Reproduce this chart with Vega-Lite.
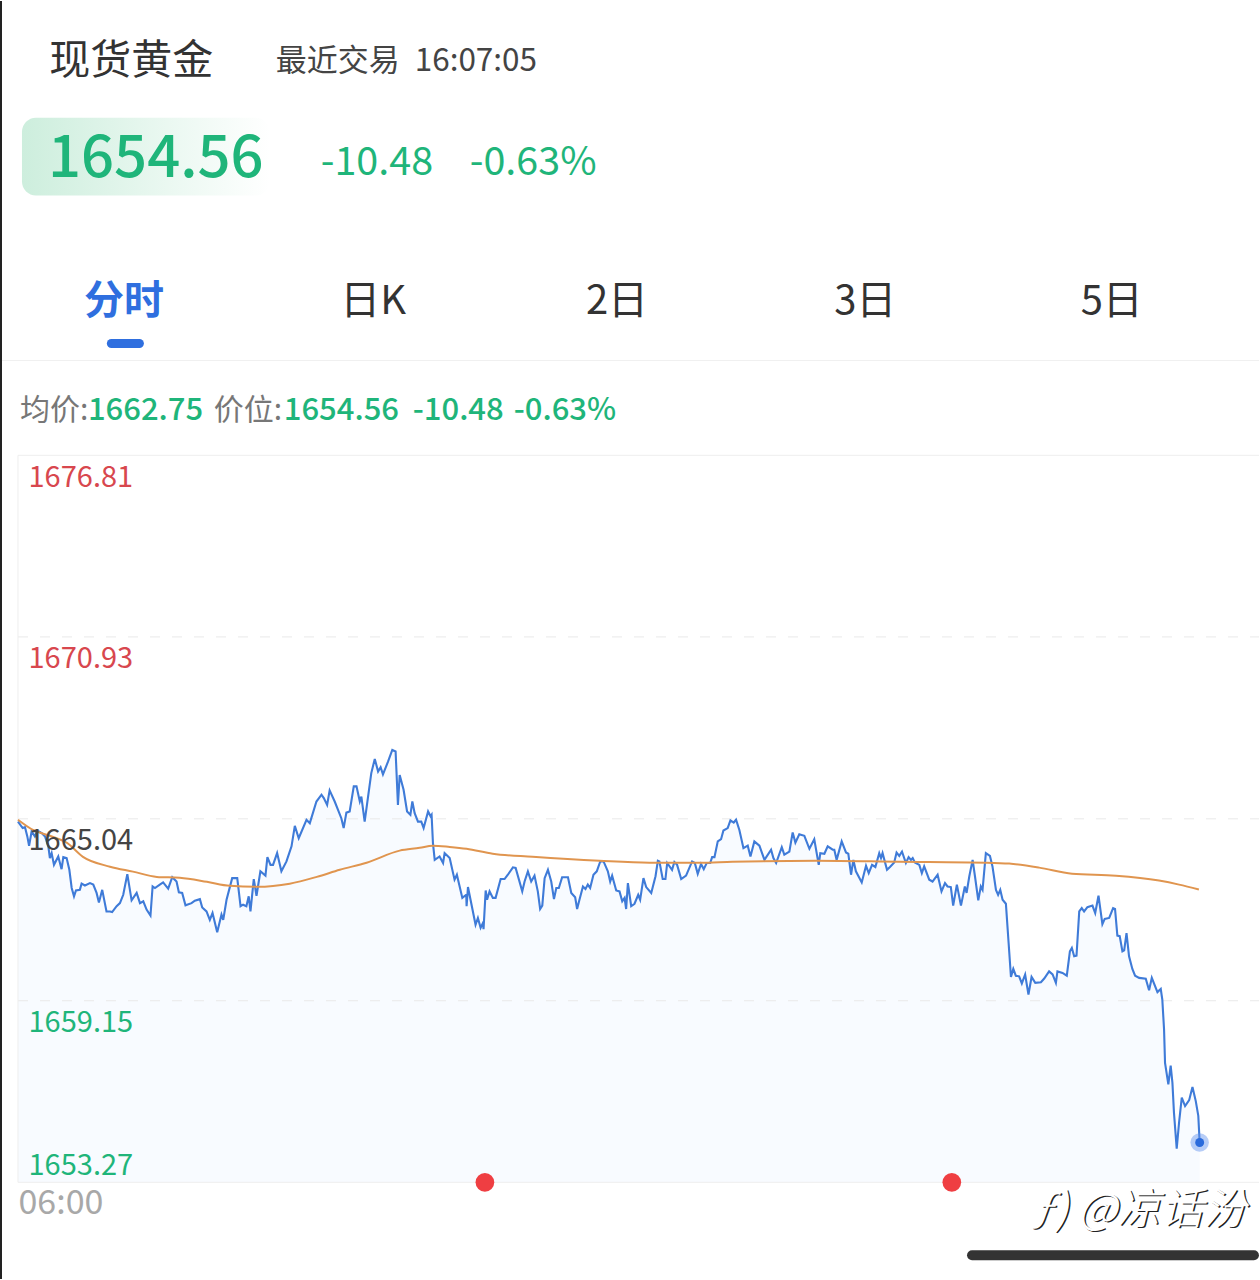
{"$schema":"https://vega.github.io/schema/vega-lite/v6.json","width":1260,"height":1280,"autosize":{"type":"fit","contains":"padding"},"padding":0,"background":"white","config":{"view":{"stroke":null},"font":"Noto Sans CJK SC"},
"datasets":{
"levels":[{"price":1670.93},{"price":1665.04},{"price":1659.15}],
"edges":[{"price":1676.81},{"price":1653.27}],
"signals":[{"minute":240,"price":1653.27},{"minute":480,"price":1653.27}],
"last":[{"minute":607.4,"price":1654.56}],
"one":[{"note":"label"}],
"price":[{"minute":0,"price":1664.95},{"minute":2.4,"price":1664.74},{"minute":3.6,"price":1664.77},{"minute":4.8,"price":1664.47},{"minute":5.7,"price":1664.17},{"minute":7,"price":1664.63},{"minute":8.7,"price":1664.47},{"minute":9.9,"price":1664.66},{"minute":12.2,"price":1664.58},{"minute":13.9,"price":1664.47},{"minute":15.6,"price":1664.15},{"minute":16.4,"price":1663.77},{"minute":17.3,"price":1663.93},{"minute":18.5,"price":1663.55},{"minute":20.7,"price":1663.82},{"minute":22.4,"price":1663.41},{"minute":23.3,"price":1663.8},{"minute":25,"price":1663.77},{"minute":26.4,"price":1663.39},{"minute":27.6,"price":1662.8},{"minute":28.8,"price":1662.53},{"minute":29.8,"price":1662.72},{"minute":31.8,"price":1662.74},{"minute":32.7,"price":1662.94},{"minute":34.4,"price":1662.88},{"minute":37,"price":1662.96},{"minute":38.7,"price":1662.91},{"minute":40.4,"price":1662.64},{"minute":41.6,"price":1662.33},{"minute":43.3,"price":1662.74},{"minute":45.5,"price":1662.04},{"minute":47.3,"price":1662.04},{"minute":48.4,"price":1662.02},{"minute":50.7,"price":1662.21},{"minute":52.4,"price":1662.31},{"minute":54.1,"price":1662.58},{"minute":56.2,"price":1663.25},{"minute":58.4,"price":1662.4},{"minute":61,"price":1662.64},{"minute":62.7,"price":1662.31},{"minute":64.4,"price":1662.37},{"minute":66.1,"price":1662.1},{"minute":68.1,"price":1661.91},{"minute":69.2,"price":1662.85},{"minute":70.4,"price":1662.8},{"minute":72.9,"price":1662.91},{"minute":74.6,"price":1662.98},{"minute":77.2,"price":1662.78},{"minute":79.3,"price":1663.15},{"minute":81.5,"price":1663.01},{"minute":82.7,"price":1662.66},{"minute":84.4,"price":1662.64},{"minute":86.1,"price":1662.24},{"minute":89.2,"price":1662.31},{"minute":90.9,"price":1662.39},{"minute":93.5,"price":1662.44},{"minute":94.7,"price":1662.17},{"minute":96.9,"price":1662.04},{"minute":98.6,"price":1661.77},{"minute":100,"price":1661.99},{"minute":102.4,"price":1661.37},{"minute":104.6,"price":1661.94},{"minute":105.5,"price":1661.77},{"minute":107.2,"price":1662.42},{"minute":110.1,"price":1663.12},{"minute":112.7,"price":1663.12},{"minute":114.4,"price":1662.21},{"minute":115.7,"price":1662.26},{"minute":117.4,"price":1662.21},{"minute":118.6,"price":1662.53},{"minute":119.5,"price":1662.04},{"minute":121.2,"price":1663.09},{"minute":122.6,"price":1662.55},{"minute":124.6,"price":1663.34},{"minute":127.2,"price":1663.2},{"minute":128.2,"price":1663.8},{"minute":129.8,"price":1663.55},{"minute":131.1,"price":1663.55},{"minute":133.2,"price":1663.93},{"minute":135.4,"price":1663.34},{"minute":138,"price":1663.66},{"minute":140.6,"price":1664.15},{"minute":142.3,"price":1664.81},{"minute":144.3,"price":1664.41},{"minute":148.3,"price":1665.01},{"minute":150,"price":1664.9},{"minute":153.4,"price":1665.6},{"minute":156,"price":1665.82},{"minute":157.2,"price":1665.71},{"minute":158.9,"price":1665.49},{"minute":160.2,"price":1665.96},{"minute":162.8,"price":1665.6},{"minute":166.2,"price":1665.06},{"minute":167.4,"price":1664.74},{"minute":168.8,"price":1665.24},{"minute":170.5,"price":1665.28},{"minute":172.6,"price":1666.09},{"minute":174,"price":1666.09},{"minute":175.7,"price":1665.6},{"minute":176.5,"price":1665.76},{"minute":178.2,"price":1664.95},{"minute":179.6,"price":1665.6},{"minute":181.6,"price":1666.52},{"minute":183.4,"price":1666.98},{"minute":185.1,"price":1666.57},{"minute":186.4,"price":1666.71},{"minute":187.6,"price":1666.48},{"minute":190.2,"price":1666.89},{"minute":192.4,"price":1667.27},{"minute":194.1,"price":1667.22},{"minute":195.3,"price":1665.49},{"minute":196.2,"price":1666.46},{"minute":198.2,"price":1665.98},{"minute":200,"price":1665.28},{"minute":201.7,"price":1665.17},{"minute":202.7,"price":1665.6},{"minute":203.9,"price":1665.22},{"minute":205.6,"price":1664.95},{"minute":207.3,"price":1664.95},{"minute":208.5,"price":1664.74},{"minute":210.8,"price":1665.28},{"minute":212.1,"price":1665.12},{"minute":212.6,"price":1665.17},{"minute":213.3,"price":1664.25},{"minute":214.2,"price":1663.71},{"minute":216.7,"price":1663.82},{"minute":218.5,"price":1663.61},{"minute":219.3,"price":1663.93},{"minute":221.9,"price":1663.77},{"minute":224.4,"price":1663.07},{"minute":225.6,"price":1663.23},{"minute":228.4,"price":1662.48},{"minute":230.4,"price":1662.58},{"minute":230.6,"price":1662.21},{"minute":231.3,"price":1662.83},{"minute":235.2,"price":1661.61},{"minute":236.4,"price":1661.83},{"minute":237.8,"price":1661.51},{"minute":239,"price":1661.67},{"minute":239.3,"price":1661.47},{"minute":240.4,"price":1662.72},{"minute":241.1,"price":1662.42},{"minute":242.4,"price":1662.69},{"minute":244.1,"price":1662.48},{"minute":245.5,"price":1662.48},{"minute":248.1,"price":1663.09},{"minute":250.1,"price":1663.09},{"minute":251.8,"price":1663.23},{"minute":254.4,"price":1663.47},{"minute":255.8,"price":1663.45},{"minute":259.2,"price":1662.69},{"minute":260.4,"price":1663.01},{"minute":262.1,"price":1663.34},{"minute":263.8,"price":1663.01},{"minute":265.5,"price":1663.2},{"minute":267.2,"price":1662.69},{"minute":268.4,"price":1662.12},{"minute":269.5,"price":1662.23},{"minute":270.7,"price":1663.12},{"minute":272.4,"price":1663.39},{"minute":274.1,"price":1663.01},{"minute":275.5,"price":1662.44},{"minute":276.7,"price":1662.8},{"minute":278,"price":1662.8},{"minute":279.7,"price":1663.15},{"minute":282.7,"price":1663.15},{"minute":284.4,"price":1662.64},{"minute":286.4,"price":1662.5},{"minute":287.4,"price":1662.12},{"minute":288.6,"price":1662.42},{"minute":290.4,"price":1662.85},{"minute":291.7,"price":1662.77},{"minute":292.9,"price":1662.91},{"minute":294.1,"price":1662.8},{"minute":295.8,"price":1663.23},{"minute":297.5,"price":1663.34},{"minute":299.3,"price":1663.66},{"minute":301,"price":1663.66},{"minute":303.2,"price":1663.34},{"minute":304.4,"price":1663.01},{"minute":305.4,"price":1663.2},{"minute":307.5,"price":1662.72},{"minute":309.2,"price":1662.69},{"minute":310.6,"price":1662.37},{"minute":311.8,"price":1662.48},{"minute":312.6,"price":1662.12},{"minute":313.5,"price":1662.96},{"minute":315.2,"price":1662.21},{"minute":316.9,"price":1662.29},{"minute":318.8,"price":1662.58},{"minute":319.8,"price":1662.42},{"minute":321.5,"price":1663.12},{"minute":322.9,"price":1662.83},{"minute":325.5,"price":1662.64},{"minute":327.7,"price":1663.18},{"minute":328.9,"price":1663.68},{"minute":329.7,"price":1663.66},{"minute":331.4,"price":1663.09},{"minute":332.8,"price":1663.09},{"minute":333.7,"price":1663.61},{"minute":336.2,"price":1663.39},{"minute":337.4,"price":1663.64},{"minute":338.8,"price":1663.55},{"minute":340.9,"price":1663.09},{"minute":343.4,"price":1663.2},{"minute":346.5,"price":1663.66},{"minute":347.9,"price":1663.61},{"minute":349.4,"price":1663.26},{"minute":351.1,"price":1663.58},{"minute":352.5,"price":1663.41},{"minute":354,"price":1663.61},{"minute":355.8,"price":1663.61},{"minute":356.8,"price":1663.8},{"minute":358,"price":1663.8},{"minute":359.7,"price":1664.31},{"minute":361.4,"price":1664.38},{"minute":362.6,"price":1664.66},{"minute":364.8,"price":1664.74},{"minute":366.2,"price":1664.99},{"minute":367.9,"price":1664.92},{"minute":369.1,"price":1665.01},{"minute":370.8,"price":1664.68},{"minute":372.9,"price":1664.09},{"minute":375.1,"price":1664.17},{"minute":376.5,"price":1663.82},{"minute":378.5,"price":1664.31},{"minute":381.1,"price":1664.17},{"minute":383.7,"price":1663.71},{"minute":387.1,"price":1664.04},{"minute":388.3,"price":1663.77},{"minute":389.7,"price":1663.61},{"minute":392.6,"price":1664.12},{"minute":393.9,"price":1663.88},{"minute":396.5,"price":1663.98},{"minute":398.2,"price":1664.6},{"minute":399.6,"price":1664.27},{"minute":401.6,"price":1664.54},{"minute":404.2,"price":1664.49},{"minute":406.8,"price":1664.07},{"minute":409.3,"price":1664.38},{"minute":411.6,"price":1663.55},{"minute":412.4,"price":1663.93},{"minute":414.5,"price":1663.91},{"minute":416.2,"price":1664.15},{"minute":418.8,"price":1664.04},{"minute":419.6,"price":1664.04},{"minute":420.8,"price":1663.71},{"minute":423.4,"price":1664.31},{"minute":425.6,"price":1663.95},{"minute":426.8,"price":1663.91},{"minute":428.2,"price":1663.23},{"minute":429.4,"price":1663.71},{"minute":430.7,"price":1663.34},{"minute":433.7,"price":1662.98},{"minute":435.9,"price":1663.52},{"minute":437.3,"price":1663.28},{"minute":439,"price":1663.55},{"minute":440.7,"price":1663.48},{"minute":442.7,"price":1663.93},{"minute":443.6,"price":1663.77},{"minute":444.4,"price":1663.93},{"minute":446.7,"price":1663.39},{"minute":448.2,"price":1663.48},{"minute":450.4,"price":1663.63},{"minute":451.6,"price":1663.95},{"minute":453,"price":1663.84},{"minute":454.4,"price":1663.98},{"minute":456.4,"price":1663.61},{"minute":457.8,"price":1663.8},{"minute":459,"price":1663.71},{"minute":459.9,"price":1663.77},{"minute":461,"price":1663.63},{"minute":463.3,"price":1663.55},{"minute":464.6,"price":1663.28},{"minute":465.8,"price":1663.5},{"minute":468.4,"price":1663.07},{"minute":470.1,"price":1663.01},{"minute":472.7,"price":1663.23},{"minute":474.7,"price":1662.69},{"minute":476.5,"price":1662.96},{"minute":477.8,"price":1662.85},{"minute":479.5,"price":1662.83},{"minute":480.7,"price":1662.23},{"minute":482.6,"price":1662.91},{"minute":484.7,"price":1662.23},{"minute":486.7,"price":1662.85},{"minute":487.6,"price":1662.64},{"minute":489,"price":1663.18},{"minute":490.7,"price":1663.71},{"minute":491.9,"price":1663.18},{"minute":493.6,"price":1662.4},{"minute":494.9,"price":1662.85},{"minute":495.8,"price":1662.74},{"minute":497.5,"price":1663.93},{"minute":499.6,"price":1663.84},{"minute":500.9,"price":1663.5},{"minute":502.7,"price":1662.74},{"minute":503.8,"price":1662.58},{"minute":504.9,"price":1662.74},{"minute":506.1,"price":1662.42},{"minute":507.8,"price":1662.29},{"minute":509.2,"price":1661.02},{"minute":510.4,"price":1659.92},{"minute":511.6,"price":1660.18},{"minute":512.9,"price":1659.96},{"minute":514.6,"price":1659.94},{"minute":516,"price":1659.71},{"minute":517.7,"price":1660},{"minute":519.4,"price":1659.35},{"minute":521,"price":1659.92},{"minute":522.9,"price":1659.73},{"minute":525.8,"price":1659.75},{"minute":527.5,"price":1659.87},{"minute":530,"price":1660.1},{"minute":531.8,"price":1660},{"minute":533.5,"price":1659.73},{"minute":534.3,"price":1660.1},{"minute":536.9,"price":1660.05},{"minute":539.1,"price":1659.96},{"minute":540.7,"price":1660.75},{"minute":541.7,"price":1660.86},{"minute":542.9,"price":1660.59},{"minute":544.1,"price":1660.61},{"minute":545.5,"price":1662.04},{"minute":546.8,"price":1662.15},{"minute":548,"price":1662.04},{"minute":549.7,"price":1662.18},{"minute":552.3,"price":1662.23},{"minute":553.7,"price":1661.99},{"minute":555.4,"price":1662.55},{"minute":557.4,"price":1661.63},{"minute":558.6,"price":1661.8},{"minute":560.9,"price":1661.83},{"minute":562.9,"price":1662.15},{"minute":563.9,"price":1662.12},{"minute":565.1,"price":1661.26},{"minute":566.3,"price":1661.24},{"minute":567.7,"price":1660.75},{"minute":568.6,"price":1660.78},{"minute":569.8,"price":1661.34},{"minute":571.1,"price":1660.59},{"minute":572.8,"price":1660.18},{"minute":574.2,"price":1659.96},{"minute":576.3,"price":1659.89},{"minute":579.7,"price":1659.86},{"minute":581.4,"price":1659.49},{"minute":582.8,"price":1659.89},{"minute":585.7,"price":1659.43},{"minute":587.4,"price":1659.53},{"minute":588.2,"price":1659.19},{"minute":589.1,"price":1658.22},{"minute":589.6,"price":1657.14},{"minute":591.3,"price":1656.44},{"minute":592.5,"price":1657.05},{"minute":593.4,"price":1656.49},{"minute":594.2,"price":1655.52},{"minute":595.6,"price":1654.36},{"minute":596.8,"price":1655.2},{"minute":598.2,"price":1656.01},{"minute":599.9,"price":1655.74},{"minute":602,"price":1655.93},{"minute":603.7,"price":1656.36},{"minute":605.4,"price":1655.9},{"minute":606.7,"price":1655.42},{"minute":607.4,"price":1654.56}],
"avg":[{"minute":0,"price":1665.01},{"minute":7.7,"price":1664.68},{"minute":16.4,"price":1664.49},{"minute":25.2,"price":1664.26},{"minute":33.4,"price":1663.81},{"minute":47.3,"price":1663.49},{"minute":59.1,"price":1663.33},{"minute":71.4,"price":1663.16},{"minute":83.2,"price":1663.13},{"minute":97.1,"price":1663},{"minute":108.9,"price":1662.87},{"minute":122.8,"price":1662.84},{"minute":139.7,"price":1662.94},{"minute":153.6,"price":1663.16},{"minute":165.4,"price":1663.39},{"minute":179.2,"price":1663.62},{"minute":196.2,"price":1664.01},{"minute":206.5,"price":1664.1},{"minute":213.1,"price":1664.17},{"minute":221.9,"price":1664.13},{"minute":230.6,"price":1664.07},{"minute":244,"price":1663.91},{"minute":264.5,"price":1663.81},{"minute":298.9,"price":1663.68},{"minute":324.6,"price":1663.62},{"minute":350.3,"price":1663.62},{"minute":367.2,"price":1663.65},{"minute":410.4,"price":1663.68},{"minute":453,"price":1663.65},{"minute":497.7,"price":1663.62},{"minute":509.5,"price":1663.59},{"minute":524.9,"price":1663.46},{"minute":541.8,"price":1663.26},{"minute":564.4,"price":1663.2},{"minute":586.5,"price":1663.04},{"minute":596.8,"price":1662.91},{"minute":607,"price":1662.75}]
},
"layer":[
{"data":{"name":"price"},"mark":{"type":"area","color":"#f8fbff","interpolate":"linear"},"encoding":{
"x":{"field":"minute","type":"quantitative","scale":{"domain":[-9.245,637.9],"nice":false,"zero":false},"axis":{"title":null,"zindex":1,"values":[0],"labelExpr":"'06:00'","orient":"bottom","offset":-97,"domain":false,"ticks":false,"grid":false,"labelAlign":"left","labelFontSize":34,"labelColor":"#a8a8a8","labelPadding":4,"labelFlush":false,"labelFont":"Noto Sans CJK SC"}},
"y":{"field":"price","type":"quantitative","scale":{"domain":[1650.14,1691.52],"nice":false,"zero":false},"axis":{"title":null,"zindex":1,"values":[1676.81,1670.93,1665.04,1659.15,1653.27],"format":".2f","domain":false,"ticks":false,"grid":false,"labelAlign":"left","labelPadding":-28,"labelFontSize":29,"labelFont":"Noto Sans CJK SC","labelBaseline":"middle","labelFlush":false,"labelOverlap":false,"labelOffset":{"expr":"datum.value<1654?-17:22"},"labelColor":{"expr":"datum.value>1666?'#d8474e':datum.value>1664?'#444444':'#1fb57a'"}}},
"y2":{"datum":1653.27}}},
{"data":{"name":"levels"},"mark":{"type":"rule","color":"#e9e9e9","strokeWidth":1,"strokeDash":[10,12]},"encoding":{"y":{"field":"price","type":"quantitative"},"x":{"datum":0,"type":"quantitative"},"x2":{"datum":637.9}}},
{"data":{"name":"edges"},"mark":{"type":"rule","color":"#eeeeee","strokeWidth":1},"encoding":{"y":{"field":"price","type":"quantitative"},"x":{"datum":0,"type":"quantitative"},"x2":{"datum":637.9}}},
{"data":{"name":"one"},"mark":{"type":"rule","color":"#eeeeee","strokeWidth":1},"encoding":{"x":{"datum":0,"type":"quantitative"},"y":{"datum":1676.81,"type":"quantitative"},"y2":{"datum":1653.27}}},
{"data":{"name":"one"},"mark":{"type":"rule","color":"#222222","strokeWidth":2},"encoding":{"x":{"datum":-8.73,"type":"quantitative"},"y":{"datum":1691.52,"type":"quantitative"},"y2":{"datum":1650.14}}},
{"data":{"name":"one"},"mark":{"type":"rule","color":"#f0f0f0","strokeWidth":1},"encoding":{"x":{"datum":-8.2,"type":"quantitative"},"x2":{"datum":637.9},"y":{"datum":1679.88,"type":"quantitative"}}},
{"data":{"name":"price"},"mark":{"type":"line","color":"#3f7bd8","strokeWidth":2.1,"interpolate":"linear"},"encoding":{"x":{"field":"minute","type":"quantitative"},"y":{"field":"price","type":"quantitative"}}},
{"data":{"name":"avg"},"mark":{"type":"line","color":"#e0954f","strokeWidth":2,"interpolate":"monotone"},"encoding":{"x":{"field":"minute","type":"quantitative"},"y":{"field":"price","type":"quantitative"}}},
{"data":{"name":"signals"},"mark":{"type":"point","filled":true,"color":"#ef3e42","opacity":1,"size":350},"encoding":{"x":{"field":"minute","type":"quantitative"},"y":{"field":"price","type":"quantitative"}}},
{"data":{"name":"last"},"mark":{"type":"point","filled":true,"color":"#5f90ee","opacity":0.45,"size":340},"encoding":{"x":{"field":"minute","type":"quantitative"},"y":{"field":"price","type":"quantitative"}}},
{"data":{"name":"last"},"mark":{"type":"point","filled":true,"color":"#2a6bdc","opacity":1,"size":80},"encoding":{"x":{"field":"minute","type":"quantitative"},"y":{"field":"price","type":"quantitative"}}},
{"data":{"name":"one"},"mark":{"type":"rect","cornerRadius":14,"fill":{"x1":0,"y1":0,"x2":1,"y2":0,"gradient":"linear","stops":[{"offset":0,"color":"#cdeedd"},{"offset":1,"color":"#ffffff"}]}},"encoding":{"x":{"datum":2.05,"type":"quantitative"},"x2":{"datum":129.4},"y":{"datum":1687.74,"type":"quantitative"},"y2":{"datum":1685.22}}},
{"data":{"name":"one"},"mark":{"type":"rule","color":"#2f6fdf","strokeWidth":9,"strokeCap":"round"},"encoding":{"x":{"datum":48,"type":"quantitative"},"x2":{"datum":62.4},"y":{"datum":1680.43,"type":"quantitative"}}},
{"data":{"name":"one"},"mark":{"type":"rule","color":"#333333","strokeWidth":10,"strokeCap":"round"},"encoding":{"x":{"datum":490.4,"type":"quantitative"},"x2":{"datum":635.3},"y":{"datum":1650.91,"type":"quantitative"}}},
{"data":{"name":"one"},"mark":{"type":"text","align":"left","baseline":"middle","fontSize":41,"color":"#333333"},"encoding":{"text":{"value":"现货黄金"},"x":{"datum":16.1,"type":"quantitative"},"y":{"datum":1689.55,"type":"quantitative"}}},
{"data":{"name":"one"},"mark":{"type":"text","align":"left","baseline":"middle","fontSize":31,"color":"#444444"},"encoding":{"text":{"value":"最近交易"},"x":{"datum":132.5,"type":"quantitative"},"y":{"datum":1689.55,"type":"quantitative"}}},
{"data":{"name":"one"},"mark":{"type":"text","align":"left","baseline":"middle","fontSize":31.5,"color":"#444444"},"encoding":{"text":{"value":"16:07:05"},"x":{"datum":203.9,"type":"quantitative"},"y":{"datum":1689.55,"type":"quantitative"}}},
{"data":{"name":"one"},"mark":{"type":"text","align":"left","baseline":"middle","fontSize":58,"fontWeight":500,"color":"#1fb57a"},"encoding":{"text":{"value":"1654.56"},"x":{"datum":15.4,"type":"quantitative"},"y":{"datum":1686.38,"type":"quantitative"}}},
{"data":{"name":"one"},"mark":{"type":"text","align":"left","baseline":"middle","fontSize":39.5,"color":"#1fb57a"},"encoding":{"text":{"value":"-10.48"},"x":{"datum":155.6,"type":"quantitative"},"y":{"datum":1686.29,"type":"quantitative"}}},
{"data":{"name":"one"},"mark":{"type":"text","align":"left","baseline":"middle","fontSize":39.5,"color":"#1fb57a"},"encoding":{"text":{"value":"-0.63%"},"x":{"datum":232.2,"type":"quantitative"},"y":{"datum":1686.29,"type":"quantitative"}}},
{"data":{"name":"one"},"mark":{"type":"text","align":"center","baseline":"middle","fontSize":40,"fontWeight":700,"color":"#2f6fdf"},"encoding":{"text":{"value":"分时"},"x":{"datum":54.44,"type":"quantitative"},"y":{"datum":1681.79,"type":"quantitative"}}},
{"data":{"name":"one"},"mark":{"type":"text","align":"center","baseline":"middle","fontSize":40,"color":"#333333"},"encoding":{"text":{"value":"日K"},"x":{"datum":182.6,"type":"quantitative"},"y":{"datum":1681.79,"type":"quantitative"}}},
{"data":{"name":"one"},"mark":{"type":"text","align":"center","baseline":"middle","fontSize":40,"color":"#333333"},"encoding":{"text":{"value":"2日"},"x":{"datum":307.9,"type":"quantitative"},"y":{"datum":1681.79,"type":"quantitative"}}},
{"data":{"name":"one"},"mark":{"type":"text","align":"center","baseline":"middle","fontSize":40,"color":"#333333"},"encoding":{"text":{"value":"3日"},"x":{"datum":435.5,"type":"quantitative"},"y":{"datum":1681.79,"type":"quantitative"}}},
{"data":{"name":"one"},"mark":{"type":"text","align":"center","baseline":"middle","fontSize":40,"color":"#333333"},"encoding":{"text":{"value":"5日"},"x":{"datum":562.2,"type":"quantitative"},"y":{"datum":1681.79,"type":"quantitative"}}},
{"data":{"name":"one"},"mark":{"type":"text","align":"left","baseline":"middle","fontSize":30,"color":"#777777"},"encoding":{"text":{"value":"均价:"},"x":{"datum":1.03,"type":"quantitative"},"y":{"datum":1678.24,"type":"quantitative"}}},
{"data":{"name":"one"},"mark":{"type":"text","align":"left","baseline":"middle","fontSize":31,"fontWeight":500,"color":"#1fb57a"},"encoding":{"text":{"value":"1662.75"},"x":{"datum":35.95,"type":"quantitative"},"y":{"datum":1678.24,"type":"quantitative"}}},
{"data":{"name":"one"},"mark":{"type":"text","align":"left","baseline":"middle","fontSize":30,"color":"#777777"},"encoding":{"text":{"value":"价位:"},"x":{"datum":100.67,"type":"quantitative"},"y":{"datum":1678.24,"type":"quantitative"}}},
{"data":{"name":"one"},"mark":{"type":"text","align":"left","baseline":"middle","fontSize":31,"fontWeight":500,"color":"#1fb57a"},"encoding":{"text":{"value":"1654.56"},"x":{"datum":136.6,"type":"quantitative"},"y":{"datum":1678.24,"type":"quantitative"}}},
{"data":{"name":"one"},"mark":{"type":"text","align":"left","baseline":"middle","fontSize":31,"fontWeight":500,"color":"#1fb57a"},"encoding":{"text":{"value":"-10.48"},"x":{"datum":202.9,"type":"quantitative"},"y":{"datum":1678.24,"type":"quantitative"}}},
{"data":{"name":"one"},"mark":{"type":"text","align":"left","baseline":"middle","fontSize":31,"fontWeight":500,"color":"#1fb57a"},"encoding":{"text":{"value":"-0.63%"},"x":{"datum":254.8,"type":"quantitative"},"y":{"datum":1678.24,"type":"quantitative"}}},
{"data":{"name":"one"},"mark":{"type":"text","align":"left","baseline":"middle","fontSize":43,"fontStyle":"italic","fontWeight":300,"color":"#222222"},"encoding":{"text":{"value":"ƒ) @凉话汾"},"x":{"datum":522,"type":"quantitative"},"y":{"datum":1652.3,"type":"quantitative"}}},
{"data":{"name":"one"},"mark":{"type":"text","align":"left","baseline":"middle","fontSize":43,"fontStyle":"italic","fontWeight":300,"color":"#ffffff","dx":-1.5,"dy":-1},"encoding":{"text":{"value":"ƒ) @凉话汾"},"x":{"datum":522,"type":"quantitative"},"y":{"datum":1652.3,"type":"quantitative"}}}
]}
